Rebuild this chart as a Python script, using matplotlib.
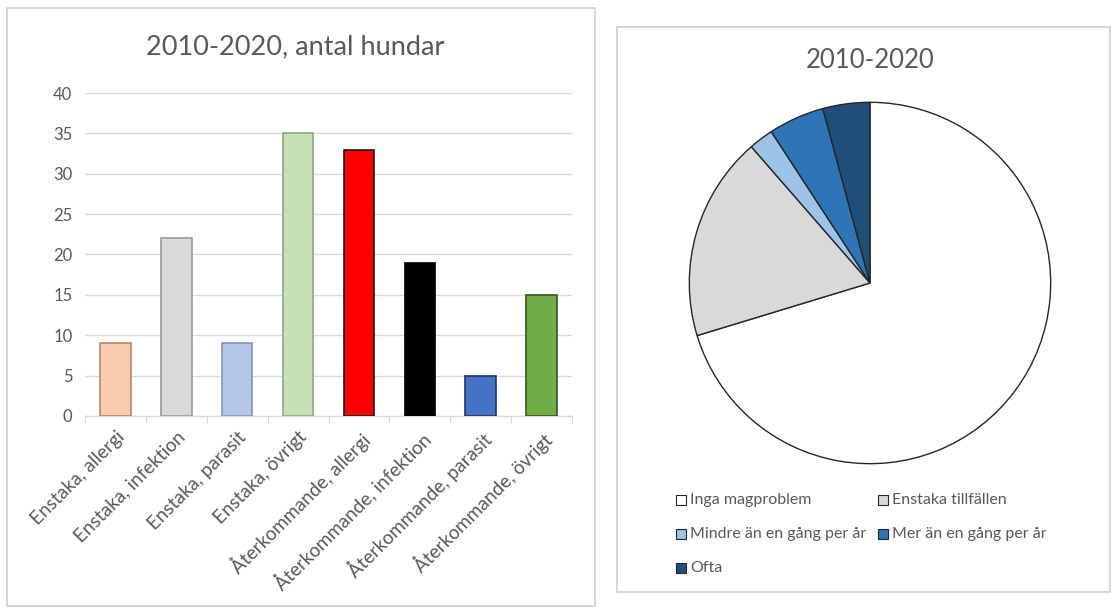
import matplotlib
matplotlib.use("Agg")
import matplotlib.pyplot as plt
from matplotlib.patches import Rectangle

plt.rcParams['font.family'] = ['Lato', 'DejaVu Sans']

# ---- data ----
bar_categories = ["Enstaka, allergi", "Enstaka, infektion", "Enstaka, parasit", "Enstaka, övrigt",
                  "Återkommande, allergi", "Återkommande, infektion", "Återkommande, parasit",
                  "Återkommande, övrigt"]
bar_values = [9, 22, 9, 35, 33, 19, 5, 15]
bar_colors = ["#F8CBAD", "#D9D9D9", "#B4C7E7", "#C5E0B4", "#FF0000", "#000000", "#4472C4", "#70AD47"]
bar_edges = ["#B08A70", "#9A9A9A", "#8196B8", "#8CAA7C", "#1A1A1A", "#000000", "#1F3864", "#375623"]
bar_title = "2010-2020, antal hundar"
y_ticks = [0, 5, 10, 15, 20, 25, 30, 35, 40]

pie_labels = ["Inga magproblem", "Enstaka tillfällen", "Mindre än en gång per år",
              "Mer än en gång per år", "Ofta"]
pie_values = [70.3, 18.3, 2.2, 5.0, 4.2]
pie_colors = ["#FFFFFF", "#D9D9D9", "#9DC3E6", "#2E75B6", "#1F4E79"]
pie_title = "2010-2020"

W, H = 1111, 608
fig = plt.figure(figsize=(W / 100, H / 100), dpi=100)
fig.patch.set_facecolor("white")

def fx(px):
    return px / W

def fy(py):
    return 1 - py / H

# panel borders
fig.patches.append(Rectangle((fx(7), fy(606)), fx(595) - fx(7), fy(8) - fy(606),
                             transform=fig.transFigure, fill=False, ec="#D0D0D0", lw=1.2))
fig.patches.append(Rectangle((fx(617), fy(592)), fx(1110) - fx(617), fy(27) - fy(592),
                             transform=fig.transFigure, fill=False, ec="#D0D0D0", lw=1.2))

# ---- bar chart ----
ax = fig.add_axes([fx(85), fy(416), fx(572) - fx(85), fy(93) - fy(416)])
x = list(range(len(bar_values)))
ax.bar(x, bar_values, width=0.5, color=bar_colors, edgecolor=bar_edges, linewidth=1.2, zorder=3)
ax.set_xlim(-0.5, len(bar_values) - 0.5)
ax.set_ylim(0, 40)
ax.set_yticks(y_ticks)
ax.set_yticklabels([str(v) for v in y_ticks], color="#595959", fontsize=12)
ax.yaxis.grid(True, color="#D9D9D9", lw=1, zorder=0)
ax.tick_params(axis="y", length=0, pad=9)
for s in ["top", "right", "left"]:
    ax.spines[s].set_visible(False)
ax.spines["bottom"].set_color("#D9D9D9")
ax.spines["bottom"].set_linewidth(1)
ax.set_xticks([i + 0.5 for i in range(-1, len(bar_values))], minor=False)
ax.set_xticklabels([])
ax.tick_params(axis="x", which="major", length=5, color="#D9D9D9", direction="out")
ax.set_xticks(x, minor=True)
ax.set_xticklabels(bar_categories, minor=True, rotation=45, ha="right", rotation_mode="anchor",
                   color="#595959", fontsize=13.7)
ax.tick_params(axis="x", which="minor", length=0, pad=9)
ax.set_facecolor("white")
fig.text(fx(295), fy(47), bar_title, ha="center", va="center", fontsize=19.5, color="#595959")

# ---- pie chart ----
cx, cy, r = 870, 283, 182.5
pax = fig.add_axes([fx(cx - r), fy(cy + r), fx(2 * r), fy(0) - fy(2 * r)])
pax.pie(pie_values, colors=pie_colors, startangle=90, counterclock=False, radius=1,
        wedgeprops=dict(edgecolor="#262626", linewidth=1.0))
pax.set_xlim(-1.01, 1.01)
pax.set_ylim(-1.01, 1.01)
pax.set_aspect("auto")
pax.axis("off")
fig.text(fx(870), fy(60), pie_title, ha="center", va="center", fontsize=18.5, color="#595959")

# legend (two columns, Excel style)
legend_pos = [(676, 500), (878, 500), (676, 534), (878, 534), (676, 568)]
for lab, col, (lx, ly) in zip(pie_labels, pie_colors, legend_pos):
    fig.patches.append(Rectangle((fx(lx), fy(ly + 5)), fx(10), fy(0) - fy(10),
                                 transform=fig.transFigure, fc=col, ec="#262626", lw=0.8))
    fig.text(fx(lx + 14), fy(ly), lab, ha="left", va="center", fontsize=11.5, color="#595959")

fig.savefig("out.png", dpi=100, facecolor="white")
